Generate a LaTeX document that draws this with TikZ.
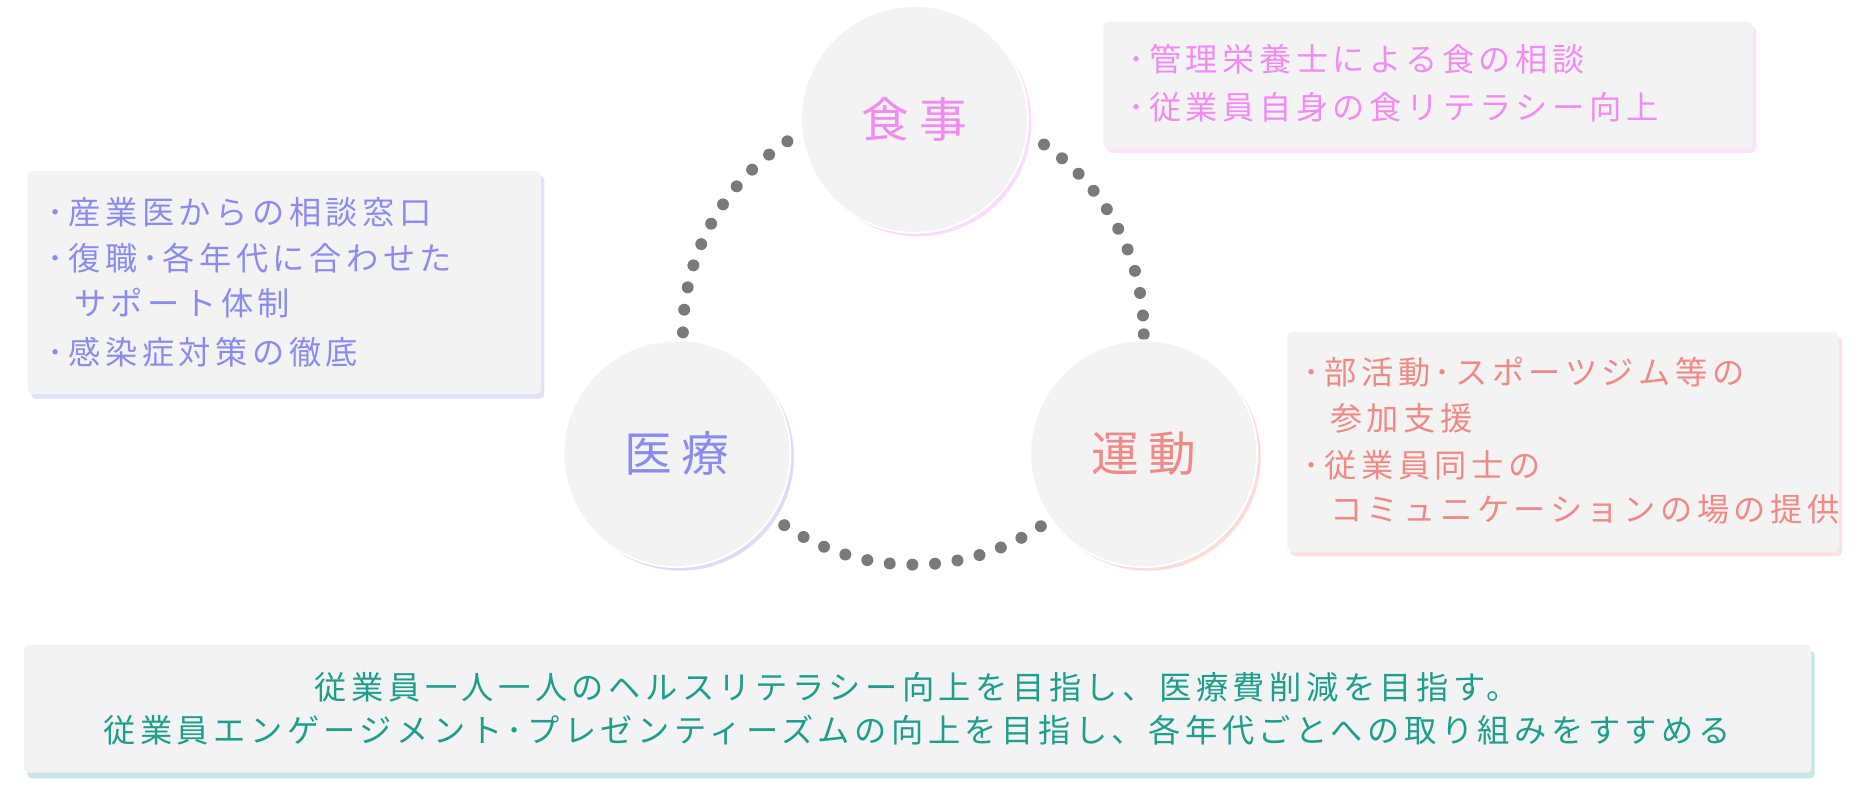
\documentclass[tikz,border=0pt]{standalone}
\usepackage{fontspec}
\setmainfont{Noto Sans CJK JP}[LetterSpace=14]
\definecolor{pinkc}{HTML}{F28CF2}
\definecolor{bluec}{HTML}{8C8CF0}
\definecolor{redc}{HTML}{F08A86}
\definecolor{tealc}{HTML}{1E9E8C}
\definecolor{boxbg}{HTML}{F3F3F3}
\definecolor{dotc}{HTML}{7A7A7A}
\tikzset{
  card/.style={fill=boxbg, rounded corners=4pt},
  circ/.style={circle, fill=boxbg, draw=white, line width=1.5pt, minimum size=190pt, inner sep=0pt, font=\fontsize{40}{42}\selectfont\addfontfeatures{LetterSpace=20}},
  txt/.style={anchor=west, inner sep=0pt, font=\fontsize{27}{29}\selectfont},
}
\begin{document}
\begin{tikzpicture}[x=1pt,y=-1pt]
\useasboundingbox (0,0) rectangle (1568,667);
\fill[white] (0,0) rectangle (1568,667);
% dotted ring
\draw[dotc, line width=10pt, line cap=round, dash pattern=on 0pt off 19pt] (765,280) circle (193);
% cards with glows
\fill[pinkc!25, rounded corners=4pt] (927,22) rectangle (1471,128);
\node[card, minimum width=544pt, minimum height=106pt, inner sep=0pt, anchor=north west] (bf) at (924,18) {};
\fill[bluec!25, rounded corners=4pt] (26,147) rectangle (456,334);
\node[card, minimum width=430pt, minimum height=187pt, inner sep=0pt, anchor=north west] (bm) at (23,143) {};
\fill[redc!25, rounded corners=4pt] (1081,282) rectangle (1543,466);
\node[card, minimum width=462pt, minimum height=184pt, inner sep=0pt, anchor=north west] (bs) at (1078,278) {};
\fill[tealc!25, rounded corners=4pt] (23,545) rectangle (1520,652);
\node[card, minimum width=1497pt, minimum height=107pt, inner sep=0pt, anchor=north west] (bb) at (20,540) {};
% circles with glows
\fill[pinkc!30] (769,103) circle (95);
\fill[bluec!30] (570,383) circle (95);
\fill[redc!30] (961,383) circle (95);
\node[circ, text=pinkc] (food) at (766,100) {食事};
\node[circ, text=bluec] (med) at (567,380) {医療};
\node[circ, text=redc] (ex) at (958,380) {運動};
% texts
\node[txt, text=pinkc] (f1) at (945,50) {･管理栄養士による食の相談};
\node[txt, text=pinkc] (f2) at (945,90) {･従業員自身の食リテラシー向上};
\node[txt, text=bluec] (m1) at (40,178) {･産業医からの相談窓口};
\node[txt, text=bluec] (m2) at (40,216) {･復職･各年代に合わせた};
\node[txt, text=bluec] (m3) at (62,254) {サポート体制};
\node[txt, text=bluec] (m4) at (40,295) {･感染症対策の徹底};
\node[txt, text=redc] (s1) at (1092,312) {･部活動･スポーツジム等の};
\node[txt, text=redc] (s2) at (1114,350) {参加支援};
\node[txt, text=redc] (s3) at (1092,390) {･従業員同士の};
\node[txt, text=redc] (s4) at (1114,427) {コミュニケーションの場の提供};
\node[inner sep=0pt, text=tealc, font=\fontsize{27}{29}\selectfont] (t1) at (768,576) {従業員一人一人のヘルスリテラシー向上を目指し、医療費削減を目指す。};
\node[inner sep=0pt, text=tealc, font=\fontsize{27}{29}\selectfont] (t2) at (768,612) {従業員エンゲージメント･プレゼンティーズムの向上を目指し、各年代ごとへの取り組みをすすめる};
\end{tikzpicture}
\end{document}
